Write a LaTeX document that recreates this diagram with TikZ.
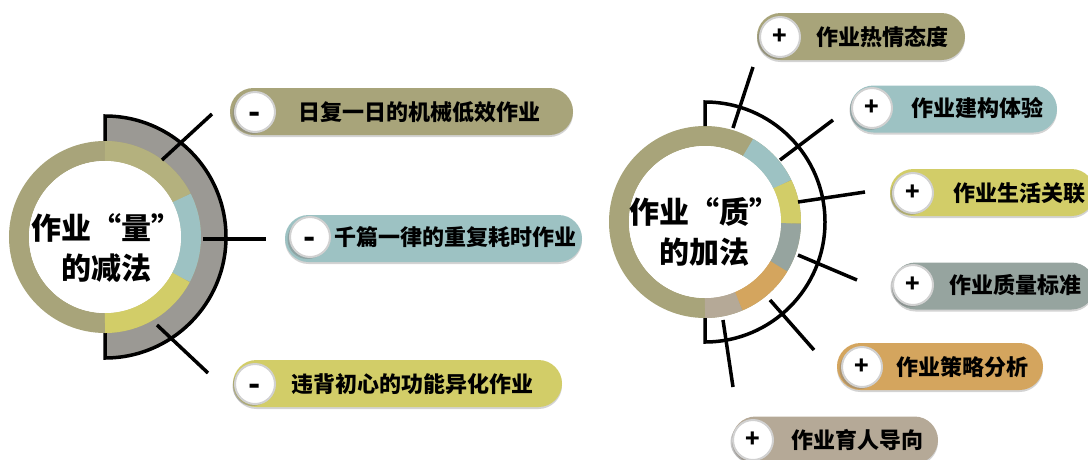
\documentclass[tikz,border=0pt]{standalone}
\usepackage{fontspec}
\newfontfamily\cjk{Noto Sans CJK SC}
\usetikzlibrary{positioning,shadows}
\definecolor{olivec}{RGB}{168,164,122}
\definecolor{olivelt}{RGB}{180,177,126}
\definecolor{tealc}{RGB}{157,194,195}
\definecolor{yellowc}{RGB}{210,205,104}
\definecolor{greytealc}{RGB}{150,164,159}
\definecolor{orangec}{RGB}{212,165,94}
\definecolor{taupec}{RGB}{181,169,151}
\definecolor{bandc}{RGB}{155,153,148}
\begin{document}
\begin{tikzpicture}[x=1pt,y=-1pt,
    pill/.style={rounded corners=23.5pt,minimum height=47pt,inner sep=0pt,fill=#1,
      drop shadow={opacity=0.35,shadow xshift=0pt,shadow yshift=-2pt}},
    sign/.style={circle,fill=white,draw=black!18,line width=2pt,minimum size=40pt,
      inner sep=0pt,font=\cjk\bfseries\fontsize{24}{24}\selectfont,
      drop shadow={opacity=0.45,shadow xshift=-2.5pt,shadow yshift=-2pt}},
    minus/.style={sign,font=\cjk\bfseries\fontsize{32}{32}\selectfont,
      text height=22pt,text depth=0pt},
    itemtext/.style={inner sep=0pt,font=\cjk\bfseries\fontsize{22}{22}\selectfont},
    hub/.style={circle,fill=white,minimum size=152pt,inner sep=0pt},
    hubtext/.style={align=center,inner sep=0pt,font=\cjk\bfseries\fontsize{30}{40}\selectfont},
    ring/.style={line width=20pt,draw=#1},
    spoke/.style={line width=3.5pt,black}]
  \useasboundingbox (0,0) rectangle (1088,459);

  % left: the subtraction side
  \coordinate (L) at (105,237);
  \fill[bandc] (L) ++(-90:94) -- ++(0,-27) arc[start angle=-90,end angle=90,radius=121]
    -- ++(0,-27) arc[start angle=90,end angle=-90,radius=94] -- cycle;
  \draw[spoke] (L) ++(-90:94) -- ++(0,-27) arc[start angle=-90,end angle=90,radius=121]
    -- ++(0,-27);
  \draw[ring=olivec] (L) circle[radius=86];
  \draw[ring=olivelt] (L) ++(-90:86) arc[start angle=-90,end angle=-27,radius=86];
  \draw[ring=tealc] (L) ++(-27:86) arc[start angle=-27,end angle=28,radius=86];
  \draw[ring=yellowc] (L) ++(28:86) arc[start angle=28,end angle=90,radius=86];
  \node[hub] (Lhub) at (L) {};
  \node[hubtext] (Ltext) at (106,248) {作业“量”\\的减法};

  \node[pill=olivec,minimum width=343pt] (q1) at (401.5,111.5) {};
  \node[pill=tealc,minimum width=297pt] (q2) at (433.5,238.5) {};
  \node[pill=yellowc,minimum width=329pt] (q3) at (397.5,383.5) {};
  \node[minus] (q1s) at (255,112) {-};
  \node[minus] (q2s) at (310,237) {-};
  \node[minus] (q3s) at (255,384) {-};
  \node[itemtext,right=22pt of q1s] (q1t) {日复一日的机械低效作业};
  \node[itemtext,right=3pt of q2s] (q2t) {千篇一律的重复耗时作业};
  \node[itemtext,right=15pt of q3s] (q3t) {违背初心的功能异化作业};

  \coordinate (q1a) at (162,160);
  \coordinate (q1b) at (212,114);
  \coordinate (q2a) at (203,239);
  \coordinate (q2b) at (266,239);
  \coordinate (q3a) at (157,325);
  \coordinate (q3b) at (208,373);
  \begin{scope}[spoke]
    \draw (q1a) -- (q1b);
    \draw (q2a) -- (q2b);
    \draw (q3a) -- (q3b);
  \end{scope}

  % right: the addition side
  \coordinate (R) at (705,222);
  \draw[ring=olivec] (R) circle[radius=86];
  \draw[ring=tealc] (R) ++(-60:86) arc[start angle=-60,end angle=-26,radius=86];
  \draw[ring=yellowc] (R) ++(-26:86) arc[start angle=-26,end angle=1,radius=86];
  \draw[ring=greytealc] (R) ++(1:86) arc[start angle=1,end angle=31,radius=86];
  \draw[ring=orangec] (R) ++(31:86) arc[start angle=31,end angle=67,radius=86];
  \draw[ring=taupec] (R) ++(67:86) arc[start angle=67,end angle=90,radius=86];
  \node[hub] (Rhub) at (R) {};
  \node[hubtext] (Rtext) at (704,232) {作业“质”\\的加法};
  \draw[spoke] (R) ++(-90:96) -- ++(0,-24) arc[start angle=-90,end angle=90,radius=120]
    -- ++(0,-24);

  \node[pill=olivec,minimum width=208pt] (r1) at (861,36.5) {};
  \node[pill=tealc,minimum width=207pt] (r2) at (953.5,109) {};
  \node[pill=yellowc,minimum width=205pt] (r3) at (992.5,192.5) {};
  \node[pill=greytealc,minimum width=203pt] (r4) at (993.5,286) {};
  \node[pill=orangec,minimum width=206pt] (r5) at (940,366.5) {};
  \node[pill=taupec,minimum width=206pt] (r6) at (835,440) {};
  \node[sign] (r1s) at (780,37) {+};
  \node[sign] (r2s) at (872,108) {+};
  \node[sign] (r3s) at (913,193) {+};
  \node[sign] (r4s) at (913,285) {+};
  \node[sign] (r5s) at (862,367) {+};
  \node[sign] (r6s) at (753,440) {+};
  \node[itemtext,right=15pt of r1s] (r1t) {作业热情态度};
  \node[itemtext,right=18pt of r2s] (r2t) {作业建构体验};
  \node[itemtext,right=19pt of r3s] (r3t) {作业生活关联};
  \node[itemtext,right=15pt of r4s] (r4t) {作业质量标准};
  \node[itemtext,right=13pt of r5s] (r5t) {作业策略分析};
  \node[itemtext,right=17pt of r6s] (r6t) {作业育人导向};

  \coordinate (r1a) at (733,128);
  \coordinate (r1b) at (753,67);
  \coordinate (r2a) at (780,160);
  \coordinate (r2b) at (833,120);
  \coordinate (r3a) at (798,202);
  \coordinate (r3b) at (865,192);
  \coordinate (r4a) at (798,255);
  \coordinate (r4b) at (857,280);
  \coordinate (r5a) at (770,300);
  \coordinate (r5b) at (814,350);
  \coordinate (r6a) at (723,320);
  \coordinate (r6b) at (733,387);
  \begin{scope}[spoke]
    \draw (r1a) -- (r1b);
    \draw (r2a) -- (r2b);
    \draw (r3a) -- (r3b);
    \draw (r4a) -- (r4b);
    \draw (r5a) -- (r5b);
    \draw (r6a) -- (r6b);
  \end{scope}
\end{tikzpicture}
\end{document}
